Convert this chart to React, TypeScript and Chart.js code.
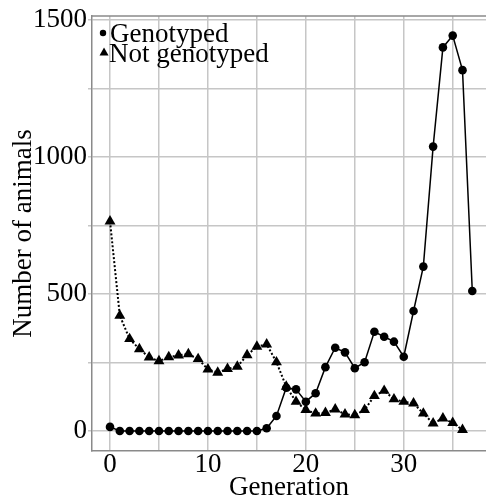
import React, { useEffect, useRef } from "react";
import { Chart, registerables } from "chart.js";

Chart.register(...registerables);

const generationsGenotyped = [0,1,2,3,4,5,6,7,8,9,10,11,12,13,14,15,16,17,18,19,20,21,22,23,24,25,26,27,28,29,30,31,32,33,34,35,36,37];
const genotyped = [15,0,0,0,0,0,0,0,0,0,0,0,0,0,0,0,10,55,158,152,107,138,233,304,287,229,251,362,344,326,271,438,600,1038,1400,1443,1317,511];
const generationsNot = [0,1,2,3,4,5,6,7,8,9,10,11,12,13,14,15,16,17,18,19,20,21,22,23,24,25,26,27,28,29,30,31,32,33,34,35,36];
const notGenotyped = [765,421,336,299,269,255,270,276,281,263,225,213,227,235,277,308,316,251,162,107,77,64,66,79,61,58,77,128,147,116,107,101,64,28,46,30,4];
const xTicks = [0,5,10,15,20,25,30,35];
const xLabels = [0,10,20,30];
const yTicks = [0,250,500,750,1000,1250,1500];
const yLabels = [0,500,1000,1500];
const seriesLabels = ["Genotyped", "Not genotyped"];

const FONT = "'Liberation Serif', 'Times New Roman', serif";
const FS = 27;

const overlayPlugin = {
  id: "overlay",
  afterDraw(chart: any) {
    const ctx = chart.ctx;
    const a = chart.chartArea;
    ctx.save();
    ctx.strokeStyle = "#8a8a8a";
    ctx.lineWidth = 1.5;
    ctx.beginPath();
    ctx.moveTo(a.left, a.top);
    ctx.lineTo(a.right, a.top);
    ctx.stroke();
    ctx.fillStyle = "#000";
    ctx.beginPath();
    ctx.arc(a.left + 11, a.top + 17, 3.2, 0, Math.PI * 2);
    ctx.fill();
    ctx.beginPath();
    const tx = a.left + 12, ty = a.top + 36;
    ctx.moveTo(tx, ty - 4.5);
    ctx.lineTo(tx + 4.5, ty + 3.5);
    ctx.lineTo(tx - 4.5, ty + 3.5);
    ctx.closePath();
    ctx.fill();
    ctx.font = `${FS}px ${FONT}`;
    ctx.textBaseline = "alphabetic";
    ctx.textAlign = "left";
    ctx.fillText(seriesLabels[0], a.left + 18, a.top + 26);
    ctx.fillText(seriesLabels[1], a.left + 17, a.top + 45.5);
    ctx.restore();
  },
};

export default function App() {
  const ref = useRef<HTMLCanvasElement | null>(null);
  useEffect(() => {
    if (!ref.current) return;
    const chart = new Chart(ref.current, {
      type: "line",
      data: {
        datasets: [
          {
            label: seriesLabels[0],
            data: generationsGenotyped.map((g, i) => ({ x: g, y: genotyped[i] })),
            borderColor: "#000",
            backgroundColor: "#000",
            borderWidth: 1.5,
            pointStyle: "circle",
            pointRadius: 4.3,
            pointBorderWidth: 0,
            tension: 0,
          },
          {
            label: seriesLabels[1],
            data: generationsNot.map((g, i) => ({ x: g, y: notGenotyped[i] })),
            borderColor: "#000",
            backgroundColor: "#000",
            borderWidth: 2,
            borderDash: [2, 2],
            pointStyle: "triangle",
            pointRadius: 6.3,
            pointBorderWidth: 0,
            tension: 0,
          },
        ],
      },
      options: {
        responsive: false,
        animation: false,
        layout: { autoPadding: false, padding: { top: 16, right: 0, left: 0, bottom: 0 } },
        plugins: { legend: { display: false }, tooltip: { enabled: false } },
        scales: {
          x: {
            type: "linear",
            bounds: "data",
            min: -1.84,
            max: 38.4,
            afterBuildTicks: (s: any) => {
              s.ticks = xTicks.map((v) => ({ value: v }));
            },
            afterFit: (s: any) => {
              s.height = 48;
              s.paddingLeft = 0;
              s.paddingRight = 0;
            },
            grid: { color: "#c6c6c6", lineWidth: 1.5, drawTicks: false },
            border: { color: "#8a8a8a", width: 1.5 },
            ticks: {
              color: "#000",
              font: { family: FONT, size: FS, lineHeight: 1 },
              padding: 0,
              maxRotation: 0,
              autoSkip: false,
              callback: (v: any) => (xLabels.includes(Number(v)) ? String(v) : ""),
            },
            title: {
              display: true,
              text: "Generation",
              color: "#000",
              font: { family: FONT, size: FS, lineHeight: 1 },
              padding: { top: 0, bottom: -2 },
            },
          },
          y: {
            type: "linear",
            bounds: "data",
            min: -73,
            max: 1514.6,
            afterBuildTicks: (s: any) => {
              s.ticks = yTicks.map((v) => ({ value: v }));
            },
            afterFit: (s: any) => {
              s.width = 92;
              s.paddingTop = 0;
              s.paddingBottom = 0;
            },
            grid: { color: "#c6c6c6", lineWidth: 1.5, tickLength: 4 },
            border: { color: "#8a8a8a", width: 1.5 },
            ticks: {
              color: "#000",
              font: { family: FONT, size: FS, lineHeight: 1 },
              padding: 1,
              autoSkip: false,
              callback: (v: any) => (yLabels.includes(Number(v)) ? String(v) : ""),
            },
            title: {
              display: true,
              text: "Number of animals",
              color: "#000",
              font: { family: FONT, size: FS, lineHeight: 1 },
              padding: { top: 10, bottom: 0 },
            },
          },
        },
      },
      plugins: [overlayPlugin],
    } as any);
    return () => chart.destroy();
  }, []);
  return (
    <div style={{ position: "fixed", left: 0, top: 0, width: 486, height: 499, background: "#fff" }}>
      <canvas ref={ref} width={486} height={499} style={{ display: "block" }} />
    </div>
  );
}
